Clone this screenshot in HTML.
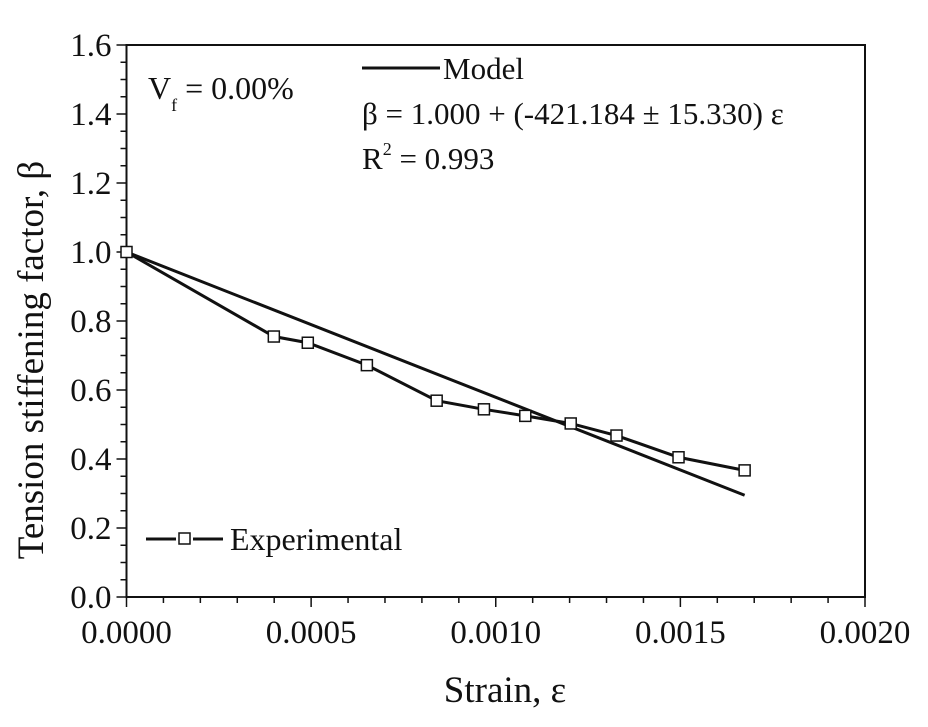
<!DOCTYPE html>
<html><head><meta charset="utf-8"><style>
body{margin:0;background:#fff;width:928px;height:722px;overflow:hidden}
svg text{font-family:"Liberation Serif",serif;fill:#111}
</style></head><body>
<svg id="chart" width="928" height="722">
<g id="axes"></g>
<g id="series"></g>
<g>
<text x="148" y="99" font-size="32">V<tspan font-size="18" dy="12">f</tspan><tspan dy="-12"> = 0.00%</tspan></text>
<line x1="362" y1="68" x2="440" y2="68" stroke="#111" stroke-width="3"/>
<text x="443" y="79" font-size="31">Model</text>
<text x="362" y="124" font-size="31">β = 1.000 + (-421.184 ± 15.330) ε</text>
<text x="362" y="169" font-size="31">R<tspan font-size="18" dy="-14">2</tspan><tspan dy="14"> = 0.993</tspan></text>
<line x1="146" y1="539" x2="176" y2="539" stroke="#111" stroke-width="3"/>
<rect x="179" y="533" width="11" height="11" fill="#fff" stroke="#111" stroke-width="1.5"/>
<line x1="193" y1="539" x2="223" y2="539" stroke="#111" stroke-width="3"/>
<text x="230" y="550" font-size="32">Experimental</text>
<text x="505" y="702" font-size="37" text-anchor="middle">Strain, ε</text>
<text transform="translate(43,360) rotate(-90)" font-size="37" text-anchor="middle">Tension stiffening factor, β</text>
</g>
</svg>
<script>
const expStrain=[0,0.000399,0.000491,0.000651,0.00084,0.000968,0.00108,0.001203,0.001327,0.001495,0.001674];
const expBeta=[1.0,0.755,0.737,0.672,0.569,0.544,0.525,0.503,0.468,0.405,0.367];
const modelIntercept=[1.0];
const modelSlope=[-421.184];
const modelRange=[0,0.001674];
const xTicks=["0.0000","0.0005","0.0010","0.0015","0.0020"];
const yTicks=["0.0","0.2","0.4","0.6","0.8","1.0","1.2","1.4","1.6"];
const L=126.5,R=865,T=45,B=597;
const xs=v=>L+(v/0.002)*(R-L);
const ys=v=>B-(v/1.6)*(B-T);
const NS="http://www.w3.org/2000/svg";
const ax=document.getElementById('axes'),se=document.getElementById('series');
function mk(p,tag,a){const e=document.createElementNS(NS,tag);for(const k in a)e.setAttribute(k,a[k]);p.appendChild(e);return e;}
const frame=mk(ax,'rect',{x:L,y:T,width:R-L,height:B-T,fill:'none',stroke:'#111','stroke-width':2});


for(let i=0;i<=20;i++){const v=i*0.0001,x=xs(v),len=i%5==0?10:6;
const t=mk(ax,'line',{x1:x,y1:B,x2:x,y2:B+len,stroke:'#111','stroke-width':1.5});

}
xTicks.forEach(s=>{const tx=mk(ax,'text',{x:xs(parseFloat(s)),y:B+46,'font-size':33,'text-anchor':'middle'});tx.textContent=s;

});
for(let i=0;i<=32;i++){const v=i*0.05,y=ys(v),len=i%4==0?10:6;
const t=mk(ax,'line',{x1:L-len,y1:y,x2:L,y2:y,stroke:'#111','stroke-width':1.5});

}
yTicks.forEach(s=>{const tx=mk(ax,'text',{x:L-15,y:ys(parseFloat(s))+11,'font-size':33,'text-anchor':'end'});tx.textContent=s;

});
const m=mk(se,'line',{x1:xs(modelRange[0]),y1:ys(modelIntercept[0]+modelSlope[0]*modelRange[0]),x2:xs(modelRange[1]),y2:ys(modelIntercept[0]+modelSlope[0]*modelRange[1]),stroke:'#111','stroke-width':3});


const pl=mk(se,'polyline',{points:expStrain.map((v,i)=>xs(v)+','+ys(expBeta[i])).join(' '),fill:'none',stroke:'#111','stroke-width':3});


expStrain.forEach((v,i)=>{const r=mk(se,'rect',{x:xs(v)-5.5,y:ys(expBeta[i])-5.5,width:11,height:11,fill:'#fff',stroke:'#111','stroke-width':1.5});

});
</script>
</body></html>
